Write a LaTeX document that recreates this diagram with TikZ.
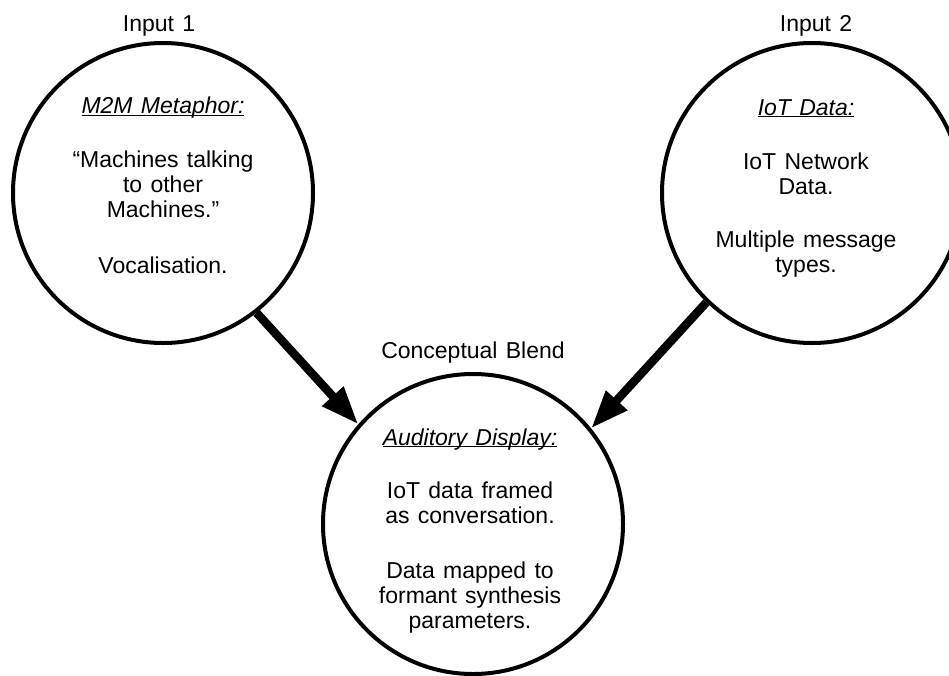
\documentclass[tikz,border=0pt]{standalone}
\usepackage{fontspec}
\setmainfont[WordSpace=1.3]{Liberation Sans}
\usetikzlibrary{
    arrows.meta,
    positioning
}

\begin{document}
\begin{tikzpicture}[
        x=1pt, y=-1pt,
        every node/.style={font=\fontsize{23}{25}\selectfont},
        bubble/.style={
            circle,
            draw=black,
            line width=4pt,
            minimum size=300pt,
            inner sep=0pt
        },
        blurb/.style={align=center, inner sep=0pt},
        caption/.style={inner sep=0pt},
        flow/.style={-{Triangle[length=38pt 0 0,width=27pt 0 0]},line width=8.5pt,draw=black}
    ]
        \useasboundingbox (0,0) rectangle (949,675);

        \node[bubble] (input1) at (163,193) {};
        \node[bubble] (input2) at (812,193) {};
        \node[bubble] (blend) at (473,524) {};

        \node[caption, above=5pt of input1, xshift=-4pt] (input1label) {Input 1};
        \node[caption, above=5pt of input2, xshift=4pt] (input2label) {Input 2};
        \node[caption, above=9pt of blend] (blendlabel) {Conceptual Blend};

        \node[blurb] (input1text) at ([yshift=-1pt]input1.center)
            {\underline{\smash{\textit{M2M Metaphor:}}}\\[29pt]
             “Machines talking\\to other\\Machines.”\\[31pt]
             Vocalisation.};
        \node[blurb] (input2text) at ([xshift=-6pt,yshift=-3pt]input2.center)
            {\underline{\smash{\textit{IoT Data:}}}\\[29pt]
             IoT Network\\Data.\\[28pt]
             Multiple message\\types.};
        \node[blurb] (blendtext) at ([xshift=-3pt,yshift=-15pt]blend.center)
            {\underline{\smash{\textit{Auditory Display:}}}\\[28pt]
             IoT data framed\\as conversation.\\[30pt]
             Data mapped to\\formant synthesis\\parameters.};

        \draw[flow] (input1.-52) -- (blend.139);
        \draw[flow] (input2.-134) -- (blend.39);
    \end{tikzpicture}
\end{document}
